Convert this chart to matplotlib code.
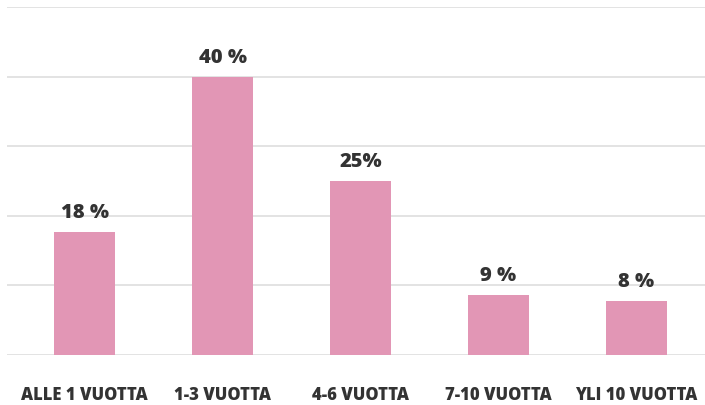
import matplotlib
matplotlib.use("Agg")
import matplotlib.pyplot as plt

categories = ["ALLE 1 VUOTTA", "1-3 VUOTTA", "4-6 VUOTTA", "7-10 VUOTTA", "YLI 10 VUOTTA"]
values = [17.7, 40, 25, 8.6, 7.8]
value_labels = ["18 %", "40 %", "25%", "9 %", "8 %"]
yticks = [0, 10, 20, 30, 40, 50]

plt.rcParams['font.family'] = ['Open Sans', 'DejaVu Sans']

fig = plt.figure(figsize=(7.05, 4.06), dpi=100)
ax = fig.add_axes([7/705, 50/406, 698/705, 348/406])
x = range(len(categories))
ax.bar(x, values, width=0.442, color="#E296B5", zorder=3)
ax.set_xlim(-0.562, 4.496)
ax.set_ylim(0, 50)
ax.set_yticks(yticks)
ax.yaxis.grid(True, color="#dedede", linewidth=1.2, zorder=0)
ax.axhline(0, color="#e4e4e4", linewidth=2, zorder=2)
ax.tick_params(axis='y', left=False, labelleft=False)
ax.tick_params(axis='x', bottom=False, pad=18.5)
ax.set_xticks(list(x))
ax.set_xticklabels(categories, fontsize=12, fontweight='heavy', color="#333333")
for s in ax.spines.values():
    s.set_visible(False)
for xi, v, lab in zip(x, values, value_labels):
    ax.annotate(lab, (xi, v), xytext=(0, 7), textcoords="offset points",
                ha="center", va="bottom", fontsize=14.5, fontweight='heavy', color="#333333")
fig.savefig("out.png", dpi=100)
